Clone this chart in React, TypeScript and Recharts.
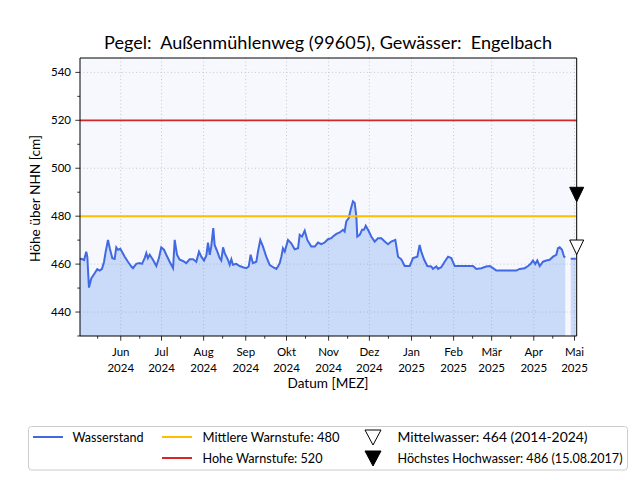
import React from "react";
import {
  ComposedChart,
  Area,
  XAxis,
  YAxis,
  CartesianGrid,
  ReferenceLine,
  Scatter,
} from "recharts";

// ---------- data ----------
const START_DATE = Date.UTC(2024, 4, 2); // day 0 = 02.05.2024
const DAY_MS = 86400000;
const X_END = 365.6;

// day offsets (days since 02.05.2024) of the readings
const dayOffsets = [
  0, 1, 3, 4.6, 5.4, 6.6, 8.3, 10.8, 12.7, 14.5,
  16.2, 17.7, 18.9, 20.6, 21.9, 23.8, 25.5, 26.7, 28, 29.7,
  30.9, 32.9, 35.3, 37.8, 39, 41.4, 43.9, 45.6, 47.6, 48.8,
  50, 51.3, 53.7, 56.2, 58.1, 59.8, 61.8, 63.5, 66, 68.5,
  69.7, 71.4, 73.4, 75.8, 78.2, 80.7, 83.2, 85.6, 87.6, 89.3,
  91.3, 93, 94.2, 95.5, 96.6, 98.1, 99.1, 101.1, 102.8, 104,
  105.3, 106.5, 108.9, 110.2, 111.4, 112.6, 115, 117.5, 120, 122.4,
  124.2, 125.6, 127.3, 129.8, 131, 132.7, 134.7, 137.1, 139.6, 142.1,
  144.5, 145.7, 147, 148.2, 149.4, 150.7, 153.1, 155.5, 158, 160.5,
  161.7, 163.4, 165.4, 167.3, 170.2, 172.8, 175.2, 177.6, 180.1, 182.5,
  185, 186.2, 188.7, 191.2, 193.6, 194.8, 196, 197.8, 199.2, 200.9,
  202.2, 203.4, 204.1, 205.9, 207.6, 209, 210.3, 212, 214.4, 216.9,
  219.3, 221.8, 224.3, 226.7, 229.1, 232.1, 234.1, 236.5, 239, 242.7,
  245.1, 248.3, 250, 251.2, 253.2, 255.6, 258.6, 259.8, 262.3, 263.5,
  265.9, 268.4, 270.9, 273.3, 275.8, 279.5, 283.2, 289.3, 291.7, 295.4,
  299, 301.6, 304, 306.4, 312.6, 321.1, 323.6, 327.3, 329.8, 331.7,
  333.4, 335.1, 336.6, 338.4, 340.8, 343.2, 345.7, 348.2, 350.6, 351.8,
  353.1, 354.8, 356.3, 357.2, 359, 361.2, 364.1, 365,
];

// water level [cm über NHN]
const levels: (number | null)[] = [
  462, 462.2, 461.7, 465.2, 463, 450.2, 454, 456.2, 457.9, 457.3,
  458, 461, 465.2, 470.1, 466.6, 462.5, 462.2, 467, 466, 466.4,
  465.2, 463.1, 461, 459, 458.3, 460.1, 460.4, 460.1, 462.5, 464.6,
  462.5, 463.9, 461.8, 459.2, 462.5, 467, 466, 463.9, 461, 458.3,
  470.1, 463.9, 461.8, 461.3, 460.4, 462, 462, 461, 465.2, 463.1,
  461.5, 463.6, 469, 463.9, 467.3, 475, 468, 465.2, 462.5, 461.5,
  467, 464.6, 461.8, 459.7, 462, 459.7, 460.1, 459.2, 458.7, 458.3,
  459, 463.9, 460.4, 461, 465.2, 470.1, 467.3, 463.1, 459.7, 458.7,
  458, 459, 460.4, 463.1, 466.6, 465.2, 470.1, 468.7, 466.2, 466.6,
  472.2, 471.5, 474, 470.1, 467.3, 467.3, 469, 468.3, 469, 470.4,
  470.8, 471.5, 472.6, 473.2, 474.3, 473.6, 477.8, 479.2, 482.7, 486.2,
  485.5, 479.9, 471.5, 472.2, 474.3, 474.3, 476, 474.3, 471.5, 469.4,
  470.8, 470.8, 469.4, 468.3, 469.4, 470.1, 463.1, 462, 459.2, 459.2,
  462.5, 463.1, 468, 465.2, 462, 459.2, 459, 458, 459, 458,
  458.7, 461, 463.1, 462.5, 459.2, 459.2, 459.2, 459.2, 458, 458.3,
  459, 459.2, 458.3, 457.3, 457.3, 457.3, 458, 458.3, 459.2, 460.1,
  461.5, 460, 461.5, 459.2, 461, 461.5, 461.8, 463.1, 463.9, 466.6,
  467, 466, 463.1, 462.8, null, 462.2, 462.2, 462.2,
];

const majorTickDates = [
  "2024-06-01", "2024-07-01", "2024-08-01", "2024-09-01", "2024-10-01", "2024-11-01",
  "2024-12-01", "2025-01-01", "2025-02-01", "2025-03-01", "2025-04-01", "2025-05-01",
];
const monthLabels = ["Jun", "Jul", "Aug", "Sep", "Okt", "Nov", "Dez", "Jan", "Feb", "Mär", "Apr", "Mai"];
const yearLabels = ["2024", "2024", "2024", "2024", "2024", "2024", "2024", "2025", "2025", "2025", "2025", "2025"];
const minorTickDates = [
  "2024-05-15", "2024-06-15", "2024-07-15", "2024-08-15", "2024-09-15", "2024-10-15",
  "2024-11-15", "2024-12-15", "2025-01-15", "2025-02-15", "2025-03-15", "2025-04-15",
];

const yMajorTicks = [440, 460, 480, 500, 520, 540];
const yMinorTicks = [430, 450, 470, 490, 510, 530];
const Y_DOMAIN: [number, number] = [430, 546];

const warnMid = 480;
const warnHigh = 520;
const meanWater = 464;
const highestFlood = 486;

// ---------- derived ----------
const toDay = (iso: string) => (Date.parse(iso + "T00:00:00Z") - START_DATE) / DAY_MS;
const chartData = dayOffsets.map((t, i) => ({ t, v: levels[i] }));
const majorX = majorTickDates.map(toDay);
const minorX = minorTickDates.map(toDay);
const meanData = [{ t: X_END, v: meanWater }];
const floodData = [{ t: X_END, v: highestFlood }];

const FONT = "Lato, 'DejaVu Sans', sans-serif";

const XTick = (props: any) => {
  const { x, y, payload } = props;
  const idx = majorX.findIndex((m) => Math.abs(m - payload.value) < 1e-6);
  if (idx < 0) {
    return <line x1={x} x2={x} y1={y} y2={y + 2.7} stroke="#000" strokeWidth={0.8} />;
  }
  return (
    <g>
      <line x1={x} x2={x} y1={y} y2={y + 4.7} stroke="#000" strokeWidth={0.8} />
      <text x={x} y={y + 20} textAnchor="middle" fontSize={11.5} fill="#000" fontFamily={FONT}>
        {monthLabels[idx]}
      </text>
      <text x={x} y={y + 35.5} textAnchor="middle" fontSize={11.5} fill="#000" fontFamily={FONT}>
        {yearLabels[idx]}
      </text>
    </g>
  );
};

const YTick = (props: any) => {
  const { x, y, payload } = props;
  const isMajor = yMajorTicks.includes(payload.value);
  if (!isMajor) {
    return <line x1={x - 2.7} x2={x} y1={y} y2={y} stroke="#000" strokeWidth={0.8} />;
  }
  return (
    <g>
      <line x1={x - 4.7} x2={x} y1={y} y2={y} stroke="#000" strokeWidth={0.8} />
      <text x={x - 9} y={y + 4} textAnchor="end" fontSize={11.5} fill="#000" fontFamily={FONT}>
        {payload.value}
      </text>
    </g>
  );
};

const OpenTriangle = (props: any) => {
  const { cx, cy } = props;
  return (
    <polygon
      points={`${cx},${cy} ${cx - 7},${cy - 14.5} ${cx + 7},${cy - 14.5}`}
      fill="#fff"
      stroke="#000"
      strokeWidth={1}
    />
  );
};

const FilledTriangle = (props: any) => {
  const { cx, cy } = props;
  return (
    <polygon
      points={`${cx},${cy} ${cx - 7},${cy - 14.5} ${cx + 7},${cy - 14.5}`}
      fill="#000"
      stroke="#000"
      strokeWidth={1}
    />
  );
};

const Overlay = () => (
  <svg
    width={640}
    height={480}
    style={{ position: "absolute", left: 0, top: 0, pointerEvents: "none" }}
    fontFamily={FONT}
  >
    <text x={328} y={49} textAnchor="middle" fontSize={17} fill="#000" textLength={448} lengthAdjust="spacingAndGlyphs">
      {"Pegel:\u00A0 Außenmühlenweg (99605), Gewässer:\u00A0 Engelbach"}
    </text>
    <text
      x={39.5}
      y={198.5}
      transform="rotate(-90 39.5 198.5)"
      textAnchor="middle"
      fontSize={13}
      fill="#000"
      textLength={127}
      lengthAdjust="spacingAndGlyphs"
    >
      Höhe über NHN [cm]
    </text>
    <text x={328} y={388} textAnchor="middle" fontSize={13} fill="#000" textLength={81} lengthAdjust="spacingAndGlyphs">
      Datum [MEZ]
    </text>

    {/* legend */}
    <rect x={28.5} y={426.5} width={599} height={43.5} rx={3} fill="#fff" stroke="#cccccc" strokeWidth={1} />
    <line x1={33} x2={63} y1={437} y2={437} stroke="#4169E1" strokeWidth={2} />
    <text x={72.5} y={441.5} fontSize={12.5} fill="#000" textLength={71} lengthAdjust="spacingAndGlyphs">Wasserstand</text>
    <line x1={162} x2={192} y1={437} y2={437} stroke="#FFBF00" strokeWidth={2} />
    <text x={202.5} y={441.5} fontSize={12.5} fill="#000" textLength={137} lengthAdjust="spacingAndGlyphs">Mittlere Warnstufe: 480</text>
    <line x1={162} x2={192} y1={458} y2={458} stroke="#D62728" strokeWidth={2} />
    <text x={202.5} y={462.5} fontSize={12.5} fill="#000" textLength={120} lengthAdjust="spacingAndGlyphs">Hohe Warnstufe: 520</text>
    <polygon points="365,430 381,430 373,445" fill="#fff" stroke="#000" strokeWidth={1} />
    <text x={397.5} y={441.5} fontSize={12.5} fill="#000" textLength={190} lengthAdjust="spacingAndGlyphs">Mittelwasser: 464 (2014-2024)</text>
    <polygon points="365,451 381,451 373,466" fill="#000" stroke="#000" strokeWidth={1} />
    <text x={397.5} y={462.5} fontSize={12.5} fill="#000" textLength={225} lengthAdjust="spacingAndGlyphs">Höchstes Hochwasser: 486 (15.08.2017)</text>
  </svg>
);

export default function App() {
  return (
    <div style={{ position: "absolute", left: 0, top: 0, width: 640, height: 480, background: "#fff", fontFamily: FONT }}>
      <ComposedChart
        width={640}
        height={480}
        data={chartData}
        margin={{ top: 58, right: 63.3, bottom: 114, left: 20 }}
      >
        <CartesianGrid
          fill="#F7F8FE"
          stroke="#c8c8c8"
          strokeDasharray="1 2.5"
          horizontalValues={yMajorTicks}
          verticalValues={majorX}
        />
        <XAxis
          type="number"
          dataKey="t"
          domain={[0, X_END]}
          ticks={[...majorX, ...minorX]}
          interval={0}
          tick={<XTick />}
          tickLine={false}
          tickSize={0}
          tickMargin={0}
          height={30}
          axisLine={{ stroke: "#000", strokeWidth: 1 }}
        />
        <YAxis
          type="number"
          domain={Y_DOMAIN}
          ticks={[...yMajorTicks, ...yMinorTicks]}
          interval={0}
          tick={<YTick />}
          tickLine={false}
          tickSize={0}
          tickMargin={0}
          width={60}
          axisLine={{ stroke: "#000", strokeWidth: 1 }}
        />
        <Area
          type="linear"
          dataKey="v"
          stroke="#4169E1"
          strokeWidth={2}
          fill="#6495ED"
          fillOpacity={0.3}
          connectNulls={false}
          dot={false}
          activeDot={false}
          isAnimationActive={false}
        />
        <ReferenceLine y={warnMid} stroke="#FFBF00" strokeWidth={2} />
        <ReferenceLine y={warnHigh} stroke="#D62728" strokeWidth={1.8} />
        <ReferenceLine y={Y_DOMAIN[1]} stroke="#000" strokeWidth={1} />
        <ReferenceLine x={X_END} stroke="#000" strokeWidth={1} />
        <Scatter data={floodData} dataKey="v" shape={<FilledTriangle />} isAnimationActive={false} />
        <Scatter data={meanData} dataKey="v" shape={<OpenTriangle />} isAnimationActive={false} />
      </ComposedChart>
      <Overlay />
    </div>
  );
}
